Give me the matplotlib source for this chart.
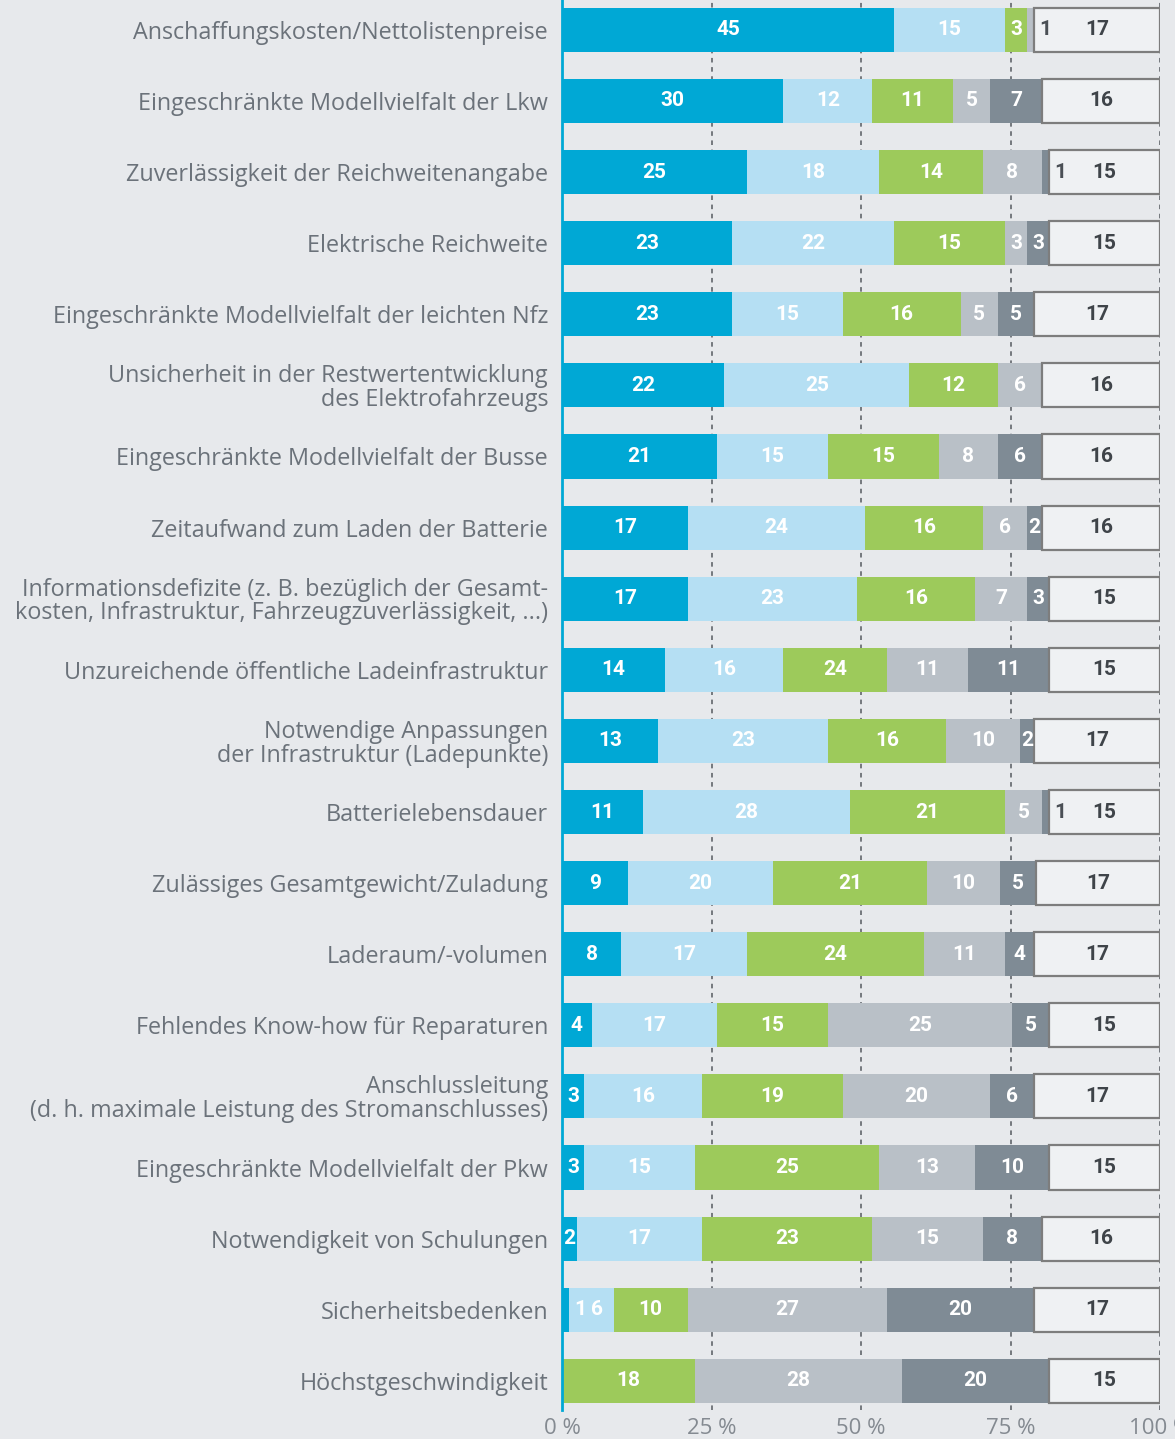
import matplotlib
matplotlib.use("Agg")
import matplotlib.pyplot as plt
import numpy as np

categories = [
    "Anschaffungskosten/Nettolistenpreise",
    "Eingeschränkte Modellvielfalt der Lkw",
    "Zuverlässigkeit der Reichweitenangabe",
    "Elektrische Reichweite",
    "Eingeschränkte Modellvielfalt der leichten Nfz",
    "Unsicherheit in der Restwertentwicklung\ndes Elektrofahrzeugs",
    "Eingeschränkte Modellvielfalt der Busse",
    "Zeitaufwand zum Laden der Batterie",
    "Informationsdefizite (z. B. bezüglich der Gesamt-\nkosten, Infrastruktur, Fahrzeugzuverlässigkeit, ...)",
    "Unzureichende öffentliche Ladeinfrastruktur",
    "Notwendige Anpassungen\nder Infrastruktur (Ladepunkte)",
    "Batterielebensdauer",
    "Zulässiges Gesamtgewicht/Zuladung",
    "Laderaum/-volumen",
    "Fehlendes Know-how für Reparaturen",
    "Anschlussleitung\n(d. h. maximale Leistung des Stromanschlusses)",
    "Eingeschränkte Modellvielfalt der Pkw",
    "Notwendigkeit von Schulungen",
    "Sicherheitsbedenken",
    "Höchstgeschwindigkeit",
]

# series (as drawn); order: dark blue, light blue, green, light gray, dark gray, white
s_darkblue  = [45, 30, 25, 23, 23, 22, 21, 17, 17, 14, 13, 11, 9, 8, 4, 3, 3, 2, 1, 0]
s_lightblue = [15, 12, 18, 22, 15, 25, 15, 24, 23, 16, 23, 28, 20, 17, 17, 16, 15, 17, 6, 0]
s_green     = [3, 11, 14, 15, 16, 12, 15, 16, 16, 14, 16, 21, 21, 24, 15, 19, 25, 23, 10, 18]
s_lightgray = [1, 5, 8, 3, 5, 6, 8, 6, 7, 11, 10, 5, 10, 11, 25, 20, 13, 15, 27, 28]
s_darkgray  = [0, 7, 1, 3, 5, 0, 6, 2, 3, 11, 2, 1, 5, 4, 5, 6, 10, 8, 20, 20]
s_white     = [17, 16, 15, 15, 17, 16, 16, 16, 15, 15, 17, 15, 17, 17, 15, 17, 15, 16, 17, 15]
# printed label overrides (the source prints 24 on a segment drawn as 14)
label_override = {(9, 2): "24"}

series = [s_darkblue, s_lightblue, s_green, s_lightgray, s_darkgray, s_white]
colors = ["#00a8d5", "#b5dff3", "#9dca5b", "#b9c0c7", "#7f8b95", "#eff1f3"]
ticks = [0, 25, 50, 75, 100]
tick_labels = ["0 %", "25 %", "50 %", "75 %", "100 %"]

bg = "#e7e9ec"
W, H = 1175, 1439
fig = plt.figure(figsize=(W / 100, H / 100), dpi=100, facecolor=bg)
ax = fig.add_axes([562 / W, 1 - 1410 / H, (1160 - 562) / W, 1410 / H], facecolor=bg)

data = np.array(series, dtype=float)
totals = data.sum(axis=0)
pct = data / totals * 100
n = len(categories)
y = np.arange(n)
left = np.zeros(n)
bar_h = 0.62
num_fs = 15
px_per_pct = (1160 - 562) / 100.0
char_px = 9.5
outside_end = {}

for k in range(len(series)):
    if k == 5:
        ax.barh(y, pct[k], left=left, height=bar_h, color=colors[k],
                edgecolor="#7d7d7d", linewidth=1.6, zorder=3)
    else:
        ax.barh(y, pct[k], left=left, height=bar_h, color=colors[k],
                edgecolor="none", zorder=3)
    for i in range(n):
        v = series[k][i]
        if v == 0:
            continue
        txt = label_override.get((i, k), str(v))
        w = pct[k][i]
        if k == 5:
            ax.text(left[i] + w / 2, i, txt, ha="center", va="center",
                    color="#3f4449", fontsize=num_fs, fontweight="bold",
                    family="Roboto", zorder=5)
        elif v <= 1:
            nxt_white = all(series[j][i] == 0 for j in range(k + 1, 5))
            col = "#4a4f55" if nxt_white else "white"
            x0 = left[i] + w + 0.8
            ax.text(x0, i, txt, ha="left", va="center",
                    color=col, fontsize=num_fs, fontweight="bold",
                    family="Roboto", zorder=5)
            outside_end[i] = x0 + len(txt) * char_px / px_per_pct
        else:
            xc = left[i] + w / 2
            half = len(txt) * char_px / 2 / px_per_pct
            if i in outside_end and xc - half < outside_end[i] + 1.5:
                xc = outside_end[i] + 1.5 + half
            ax.text(xc, i, txt, ha="center", va="center",
                    color="white", fontsize=num_fs, fontweight="bold",
                    family="Roboto", zorder=5)
    left = left + pct[k]

ax.set_xlim(0, 100)
ax.set_ylim(19.41, -0.42)
for t in ticks[1:]:
    ax.axvline(t, color="#555a60", linestyle=(0, (3, 3)), linewidth=1.1, zorder=1)

ax.set_yticks(y)
ax.set_yticklabels(categories, fontsize=16.8, color="#6b727a", family="Open Sans",
                   linespacing=0.98)
ax.set_xticks(ticks)
ax.set_xticklabels(tick_labels, fontsize=16, color="#848a91", family="Open Sans")
ax.tick_params(axis="both", length=0)
ax.tick_params(axis="y", pad=10)
ax.tick_params(axis="x", pad=6)
for sp in ["top", "right", "bottom"]:
    ax.spines[sp].set_visible(False)
ax.spines["left"].set_color("#00a8d5")
ax.spines["left"].set_linewidth(2)
ax.spines["left"].set_zorder(4)

fig.savefig("out.png", dpi=100, facecolor=bg)
